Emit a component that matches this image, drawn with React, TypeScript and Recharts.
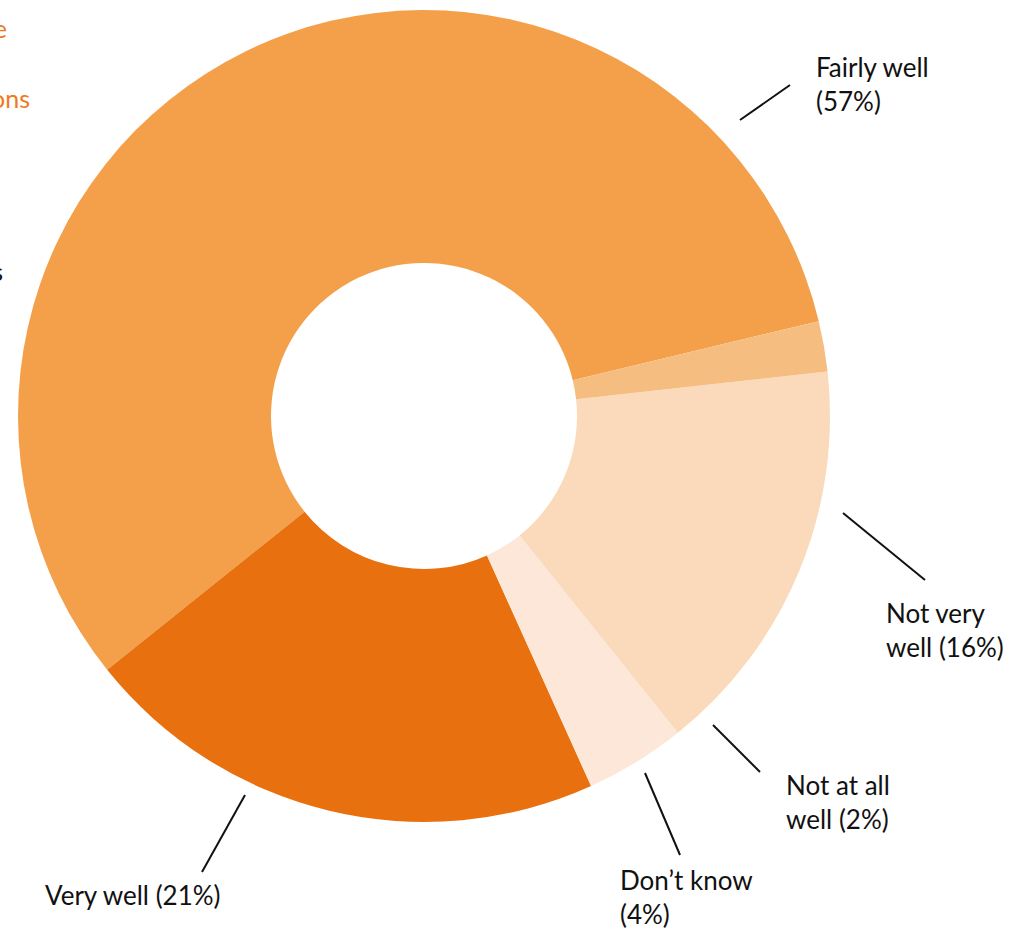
import React from 'react';
import { PieChart, Pie, Cell } from 'recharts';

const categories = ['Fairly well', 'Very well', 'Don\u2019t know', 'Not very well', 'Not at all well'];
const shares = [57, 21, 4, 16, 2];
const colors = ['#F4A04A', '#E8700F', '#FCE7D8', '#FADABB', '#F6BD80'];

const data = categories.map((name, i) => ({ name, value: shares[i] }));

// leader line + text placement, relative to the pie centre
const LABEL_LAYOUT: Record<string, { line: number[]; tx: number; ty: number; breakAt: number }> = {
  'Fairly well': { line: [316, -296, 366, -331], tx: 392, ty: -339, breakAt: 2 },
  'Very well': { line: [-179, 379, -222, 456], tx: -379, ty: 489, breakAt: 99 },
  'Don\u2019t know': { line: [221, 357, 256, 439], tx: 196, ty: 474, breakAt: 2 },
  'Not very well': { line: [419, 97, 501, 164], tx: 462, ty: 207, breakAt: 2 },
  'Not at all well': { line: [289, 309, 336, 356], tx: 362, ty: 379, breakAt: 3 },
};

const FONT = 'Lato, "Noto Sans", sans-serif';

const renderLabel = (props: any) => {
  const { cx, cy, name, value } = props;
  const cfg = LABEL_LAYOUT[name];
  if (!cfg) return null;
  const words = `${name} (${value}%)`.split(' ');
  const lines = [words.slice(0, cfg.breakAt).join(' '), words.slice(cfg.breakAt).join(' ')].filter(Boolean);
  const [x1, y1, x2, y2] = cfg.line;
  return (
    <g>
      <line x1={cx + x1} y1={cy + y1} x2={cx + x2} y2={cy + y2} stroke="#111" strokeWidth={2} />
      <text x={cx + cfg.tx} y={cy + cfg.ty} fill="#111" fontSize={26} fontFamily={FONT}>
        {lines.map((l, i) => (
          <tspan key={i} x={cx + cfg.tx} dy={i === 0 ? 0 : 34}>
            {l}
          </tspan>
        ))}
      </text>
    </g>
  );
};

export default function App() {
  return (
    <div style={{ position: 'absolute', left: 0, top: 0, width: 1021, height: 931, background: '#fff', overflow: 'hidden' }}>
      <svg width={1021} height={931} style={{ position: 'absolute', left: 0, top: 0 }}>
        <text x={7} y={38} textAnchor="end" fill="#EE7A1C" fontSize={25} fontFamily={FONT}>e</text>
        <text x={30} y={108} textAnchor="end" fill="#EE7A1C" fontSize={25} fontFamily={FONT}>ons</text>
        <text x={3} y={281} textAnchor="end" fill="#111" fontSize={25} fontFamily={FONT}>s</text>
      </svg>
      <PieChart
        width={1021}
        height={931}
        margin={{ top: 0, right: 0, bottom: 0, left: 0 }}
        style={{ position: 'absolute', left: 0, top: 0 }}
      >
        <Pie
          data={data}
          dataKey="value"
          nameKey="name"
          cx={424}
          cy={416}
          innerRadius={153}
          outerRadius={406}
          startAngle={13.5}
          endAngle={373.5}
          stroke="none"
          label={renderLabel}
          labelLine={false}
          isAnimationActive={false}
        >
          {data.map((d, i) => (
            <Cell key={d.name} fill={colors[i]} />
          ))}
        </Pie>
      </PieChart>
    </div>
  );
}
